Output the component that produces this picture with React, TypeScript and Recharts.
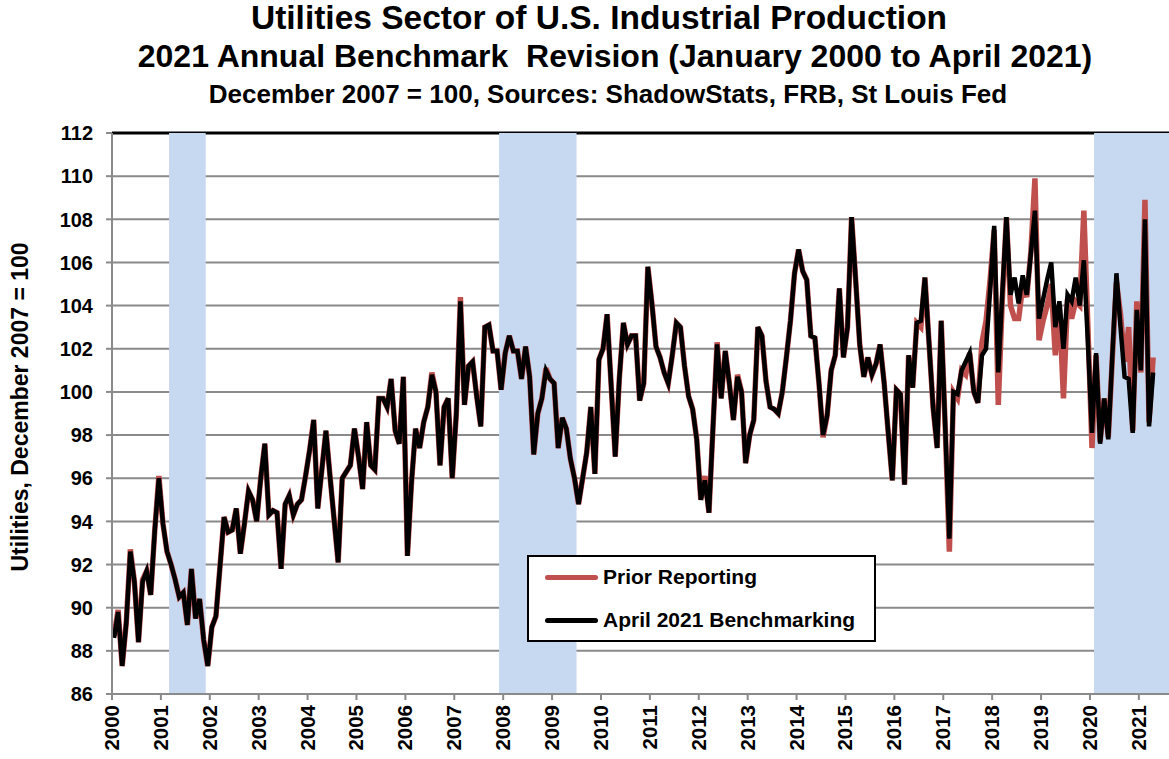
import React from 'react'
import { LineChart, Line, XAxis, YAxis, CartesianGrid, ReferenceArea } from 'recharts'

// monthly index, one row per year
const benchmark2021 = [
  88.6, 89.8, 87.3, 89.3, 92.6, 91.2, 88.4, 91.2, 91.7, 90.6, 93.6, 96.0, // 2000
  93.9, 92.6, 92.0, 91.3, 90.5, 90.7, 89.2, 91.8, 89.5, 90.4, 88.5, 87.3, // 2001
  89.1, 89.6, 91.9, 94.2, 93.5, 93.6, 94.6, 92.5, 93.9, 95.4, 95.0, 94.0, // 2002
  96.0, 97.6, 94.3, 94.5, 94.4, 91.8, 94.8, 95.2, 94.3, 94.8, 95.0, 96.1, // 2003
  97.3, 98.7, 94.6, 96.4, 98.2, 96.1, 94.1, 92.1, 96.0, 96.3, 96.6, 98.3, // 2004
  97.0, 95.5, 98.6, 96.6, 96.4, 99.7, 99.7, 99.3, 100.6, 98.2, 97.6, 100.7, // 2005
  92.4, 95.8, 98.3, 97.4, 98.6, 99.3, 100.8, 100.0, 96.6, 99.3, 99.7, 96.0, // 2006
  99.0, 104.2, 99.4, 101.2, 101.4, 99.8, 98.4, 103.0, 103.1, 101.9, 101.9, 100.1, // 2007
  101.8, 102.6, 101.9, 101.9, 100.6, 102.1, 100.7, 97.1, 99.0, 99.7, 101.0, 100.6, // 2008
  100.4, 97.4, 98.8, 98.3, 96.9, 96.0, 94.8, 96.0, 97.2, 99.3, 96.2, 101.5, // 2009
  102.0, 103.6, 100.3, 97.0, 100.6, 103.2, 102.2, 102.6, 102.6, 99.6, 100.4, 105.8, // 2010
  104.1, 102.1, 101.6, 100.9, 100.4, 101.7, 103.2, 103.0, 101.2, 99.8, 99.2, 97.8, // 2011
  95.0, 95.9, 94.4, 98.4, 102.2, 99.7, 101.9, 100.4, 98.7, 100.7, 100.0, 96.7, // 2012
  98.0, 98.7, 103.0, 102.6, 100.5, 99.3, 99.2, 99.0, 100.0, 101.6, 103.3, 105.5, // 2013
  106.6, 105.6, 105.2, 102.6, 102.5, 100.4, 98.0, 98.9, 101.0, 101.7, 104.8, 101.6, // 2014
  103.0, 108.1, 105.2, 102.2, 100.7, 101.6, 100.8, 101.3, 102.2, 100.4, 98.1, 95.9, // 2015
  100.1, 99.9, 95.7, 101.7, 100.2, 103.2, 103.3, 105.3, 102.3, 99.3, 97.4, 103.3, // 2016
  98.3, 93.2, 100.0, 99.9, 101.0, 101.4, 101.8, 100.0, 99.5, 101.7, 102.0, 104.7, // 2017
  107.7, 100.9, 104.6, 108.1, 104.5, 105.3, 104.1, 105.4, 104.5, 106.4, 108.4, 103.4, // 2018
  104.3, 105.2, 106.0, 103.0, 104.2, 102.0, 104.5, 104.2, 105.3, 104.0, 106.1, 102.3, // 2019
  98.1, 101.8, 97.6, 99.7, 97.8, 101.7, 105.5, 103.0, 100.7, 100.6, 98.1, 103.8, // 2020
  101.0, 108.0, 98.4, 100.9, // 2021
]

const priorReporting = [
  88.7, 89.9, 87.3, 89.3, 92.7, 91.2, 88.4, 91.3, 91.7, 90.6, 93.6, 96.1, // 2000
  93.9, 92.6, 92.0, 91.3, 90.5, 90.7, 89.2, 91.8, 89.5, 90.4, 88.5, 87.3, // 2001
  89.1, 89.6, 91.9, 94.2, 93.5, 93.6, 94.6, 92.5, 93.9, 95.4, 95.0, 94.0, // 2002
  96.0, 97.6, 94.3, 94.5, 94.4, 91.8, 94.8, 95.2, 94.3, 94.8, 95.0, 96.1, // 2003
  97.3, 98.7, 94.6, 96.4, 98.2, 96.1, 94.1, 92.1, 96.0, 96.3, 96.6, 98.3, // 2004
  97.0, 95.5, 98.6, 96.6, 96.4, 99.7, 99.7, 99.3, 100.6, 98.2, 97.6, 100.7, // 2005
  92.4, 95.8, 98.3, 97.4, 98.6, 99.3, 100.9, 100.0, 96.6, 99.3, 99.7, 96.0, // 2006
  99.0, 104.4, 99.4, 101.2, 101.4, 99.8, 98.4, 103.0, 103.1, 101.9, 101.9, 100.1, // 2007
  101.8, 102.6, 101.9, 101.9, 100.6, 102.1, 100.7, 97.1, 99.0, 99.7, 101.1, 100.6, // 2008
  100.4, 97.4, 98.8, 98.3, 96.9, 96.0, 94.8, 96.0, 97.2, 99.3, 96.2, 101.5, // 2009
  102.0, 103.6, 100.3, 97.0, 100.6, 103.2, 102.2, 102.6, 102.6, 99.6, 100.4, 105.8, // 2010
  104.1, 102.1, 101.6, 100.9, 100.4, 101.7, 103.2, 103.0, 101.2, 99.8, 99.2, 97.8, // 2011
  95.0, 96.1, 94.4, 98.4, 102.3, 99.7, 101.9, 100.4, 98.7, 100.8, 100.0, 96.7, // 2012
  98.0, 98.7, 103.0, 102.6, 100.5, 99.3, 99.2, 99.0, 100.0, 101.6, 103.3, 105.5, // 2013
  106.6, 105.6, 105.2, 102.6, 102.5, 100.4, 97.9, 98.9, 101.0, 101.7, 104.8, 101.6, // 2014
  103.0, 108.1, 105.2, 102.2, 100.7, 101.6, 100.8, 101.3, 102.2, 100.4, 98.1, 95.9, // 2015
  100.1, 99.9, 95.7, 101.7, 100.2, 103.2, 103.0, 105.3, 102.3, 99.3, 97.4, 103.3, // 2016
  98.3, 92.6, 100.0, 99.7, 101.0, 100.8, 101.8, 100.0, 99.5, 102.3, 103.3, 105.2, // 2017
  107.5, 99.4, 104.3, 108.1, 104.0, 103.4, 103.4, 104.9, 104.4, 106.5, 109.9, 102.4, // 2018
  103.3, 104.0, 105.0, 101.7, 104.0, 99.7, 104.3, 103.4, 104.2, 104.0, 108.4, 103.0, // 2019
  97.4, 101.7, 97.7, 99.7, 97.9, 101.6, 105.1, 103.6, 101.4, 103.0, 98.2, 104.2, // 2020
  100.9, 108.9, 98.6, 101.6, // 2021
]

const years = [
  2000, 2001, 2002, 2003, 2004, 2005, 2006, 2007, 2008, 2009, 2010,
  2011, 2012, 2013, 2014, 2015, 2016, 2017, 2018, 2019, 2020, 2021,
]
const yTicks = [86, 88, 90, 92, 94, 96, 98, 100, 102, 104, 106, 108, 110, 112]

// recession shading, in months counted from January 2000
const recessions = [
  { from: 14, to: 23 }, // Mar 2001 - Nov 2001
  { from: 95, to: 114 }, // Dec 2007 - Jun 2009
  { from: 241, to: 262 }, // Feb 2020 -
]

const data = benchmark2021.map((v, i) => ({
  m: i + 0.5,
  benchmark: v,
  prior: priorReporting[i],
}))

const font = "'Liberation Sans', Arial, sans-serif"
const gray = '#8a8a8a'

const YTick = (props: any) => (
  <text x={93} y={props.y} dy="0.36em" textAnchor="end" fontFamily={font} fontSize={20} fontWeight="bold" fill="#000">
    {props.payload.value}
  </text>
)

const XTick = (props: any) => (
  <text
    transform={`translate(${props.x + 7},${705}) rotate(-90)`}
    textAnchor="end"
    fontFamily={font}
    fontSize={20.5}
    fontWeight="bold"
    fill="#000"
  >
    {2000 + Math.round(props.payload.value / 12)}
  </text>
)

const LegendBox = () => (
  <div
    style={{
      position: 'absolute',
      left: 527,
      top: 555,
      width: 345,
      height: 83,
      border: '2px solid #000',
      background: '#fff',
      fontFamily: font,
      fontWeight: 'bold',
      fontSize: 21,
    }}
  >
    {[
      { name: 'Prior Reporting', color: '#c0504d', top: 20 },
      { name: 'April 2021 Benchmarking', color: '#000', top: 63 },
    ].map((it) => (
      <div key={it.name} style={{ position: 'absolute', left: 16, top: it.top - 12, height: 24, display: 'flex', alignItems: 'center' }}>
        <div style={{ width: 53, height: 5, borderRadius: 3, background: it.color, marginRight: 5 }} />
        <span>{it.name}</span>
      </div>
    ))}
  </div>
)

export default function App() {
  return (
    <div style={{ position: 'relative', width: 1169, height: 759, background: '#fff' }}>
      <style>{'body{margin:0}'}</style>
      <LineChart width={1169} height={759} data={data} margin={{ top: 133, right: 0, bottom: 0, left: 0 }}>
        <CartesianGrid vertical={false} stroke={gray} strokeWidth={2} horizontalValues={yTicks.slice(0, -1)} />
        <CartesianGrid vertical={false} stroke="#000" strokeWidth={3} horizontalValues={[112]} />
        {recessions.map((r) => (
          <ReferenceArea key={r.from} x1={r.from} x2={r.to} fill="#c6d9f1" fillOpacity={1} stroke="none" ifOverflow="hidden" />
        ))}
        <XAxis
          type="number"
          dataKey="m"
          domain={[0, 259.4]}
          allowDataOverflow
          ticks={years.map((y) => (y - 2000) * 12)}
          interval={0}
          height={65}
          tickSize={6}
          tick={<XTick />}
          axisLine={{ stroke: gray, strokeWidth: 2 }}
          tickLine={{ stroke: gray, strokeWidth: 2 }}
        />
        <YAxis
          domain={[86, 112]}
          ticks={yTicks}
          interval={0}
          width={112}
          tickSize={6}
          tick={<YTick />}
          axisLine={{ stroke: gray, strokeWidth: 2 }}
          tickLine={{ stroke: gray, strokeWidth: 2 }}
        />
        <Line type="linear" dataKey="prior" stroke="#c0504d" strokeWidth={5.5} dot={false} isAnimationActive={false} />
        <Line type="linear" dataKey="benchmark" stroke="#000" strokeWidth={4.5} dot={false} isAnimationActive={false} />
      </LineChart>
      <svg width={1169} height={759} style={{ position: 'absolute', left: 0, top: 0, pointerEvents: 'none' }}>
        <g fontFamily={font} fontWeight="bold" fill="#000" textAnchor="middle">
          <text x={599} y={29} fontSize={33.5}>Utilities Sector of U.S. Industrial Production</text>
          <text x={615} y={67} fontSize={32}>{'2021 Annual Benchmark \u00a0Revision (January 2000 to April 2021)'}</text>
          <text x={608} y={103} fontSize={26}>December 2007 = 100, Sources: ShadowStats, FRB, St Louis Fed</text>
          <text transform="translate(28,407) rotate(-90)" fontSize={23}>Utilities, December 2007 = 100</text>
        </g>
      </svg>
      <LegendBox />
    </div>
  )
}
